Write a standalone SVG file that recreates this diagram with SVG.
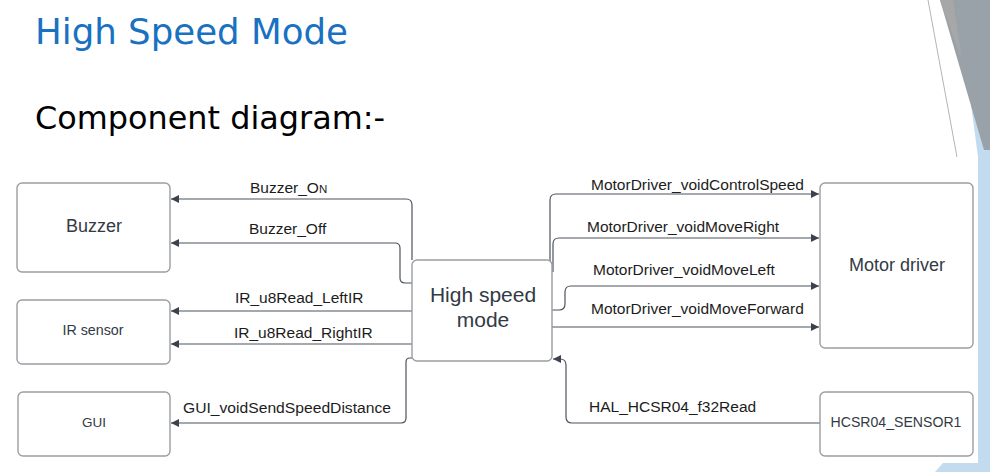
<svg xmlns="http://www.w3.org/2000/svg" width="990" height="472" viewBox="0 0 990 472">
  <defs>
    <style>
      .title { font-family: "DejaVu Sans", "Liberation Sans", sans-serif; }
      .box { fill: #ffffff; stroke: #9b9ea3; stroke-width: 1.4; }
      .boxtext { font-family: "Liberation Sans", Arial, sans-serif; fill: #333a44; text-anchor: middle; }
      .lbl { font-family: "Liberation Sans", Arial, sans-serif; font-size: 15.5px; fill: #1c1c1c; }
      .conn { fill: none; stroke: #4d535d; stroke-width: 1.2; marker-end: url(#ah); }
    </style>
    <marker id="ah" viewBox="0 0 10 10" refX="10" refY="5" markerWidth="10" markerHeight="8" orient="auto" markerUnits="userSpaceOnUse">
      <path d="M0,0 L10,5 L0,10 z" fill="#3c424c"/>
    </marker>
  </defs>

  <rect x="0" y="0" width="990" height="472" fill="#ffffff"/>

  <!-- slide decoration -->
  <polygon points="957,0 990,0 990,472 935,472 943,463 978,463 978,157" fill="#c3dbef"/>
  <polygon points="940,0 990,0 990,150 984,150" fill="#99a2a8"/>
  <polygon points="940,0 953,0 962,60" fill="#a7a7a7"/>
  <line x1="928" y1="0" x2="957" y2="157" stroke="#b4b4b4" stroke-width="1"/>

  <text class="title" x="35" y="44" font-size="36" fill="#1872c1" textLength="313" lengthAdjust="spacingAndGlyphs">High Speed Mode</text>
  <text class="title" x="35" y="129" font-size="32" fill="#000000" textLength="350" lengthAdjust="spacingAndGlyphs">Component diagram:-</text>

  <g id="connectors">
    <path class="conn" d="M412,260 V205 Q412,199 406,199 H171"/>
    <path class="conn" d="M412,283 H405 Q400,283 400,278 V248 Q400,243 395,243 H171"/>
    <path class="conn" d="M412,311 H171"/>
    <path class="conn" d="M412,344 H171"/>
    <path class="conn" d="M412,358 H410 Q406,358 406,362 V418 Q406,423 401,423 H171"/>
    <path class="conn" d="M550,262 V200 Q550,194 556,194 H819"/>
    <path class="conn" d="M553,272 V244 Q553,238 559,238 H819"/>
    <path class="conn" d="M552,310 H559 Q565,310 565,304 V292 Q565,286 571,286 H819"/>
    <path class="conn" d="M552,327 H819"/>
    <path class="conn" d="M820,423 H572 Q566,423 566,417 V365 Q566,359 560,359 H553"/>

    <text class="lbl" x="250" y="193">Buzzer_O<tspan font-size="11.5">N</tspan></text>
    <text class="lbl" x="249" y="234">Buzzer_Off</text>
    <text class="lbl" x="235" y="303">IR_u8Read_LeftIR</text>
    <text class="lbl" x="234" y="338">IR_u8Read_RightIR</text>
    <text class="lbl" x="183" y="413" textLength="208" lengthAdjust="spacingAndGlyphs">GUI_voidSendSpeedDistance</text>
    <text class="lbl" x="591" y="190" textLength="213" lengthAdjust="spacingAndGlyphs">MotorDriver_voidControlSpeed</text>
    <text class="lbl" x="587" y="232">MotorDriver_voidMoveRight</text>
    <text class="lbl" x="593" y="275">MotorDriver_voidMoveLeft</text>
    <text class="lbl" x="591" y="314">MotorDriver_voidMoveForward</text>
    <text class="lbl" x="589" y="412">HAL_HCSR04_f32Read</text>
  </g>

  <g id="buzzer">
    <rect class="box" x="17" y="183" width="153" height="89" rx="5"/>
    <text class="boxtext" x="94" y="232" font-size="18">Buzzer</text>
  </g>
  <g id="ir-sensor">
    <rect class="box" x="17" y="300" width="153" height="64" rx="5"/>
    <text class="boxtext" x="93" y="335" font-size="14.3">IR sensor</text>
  </g>
  <g id="gui">
    <rect class="box" x="18" y="392" width="152" height="64" rx="5"/>
    <text class="boxtext" x="94" y="427" font-size="13.5">GUI</text>
  </g>
  <g id="high-speed-mode">
    <rect class="box" x="412" y="260" width="140" height="101" rx="5"/>
    <text class="boxtext" x="483" y="302" font-size="21">High speed</text>
    <text class="boxtext" x="483" y="327" font-size="21">mode</text>
  </g>
  <g id="motor-driver">
    <rect class="box" x="820" y="183" width="153" height="165" rx="5"/>
    <text class="boxtext" x="897" y="271" font-size="18">Motor driver</text>
  </g>
  <g id="hcsr04-sensor1">
    <rect class="box" x="820" y="392" width="153" height="64" rx="5"/>
    <text class="boxtext" x="896" y="427" font-size="14.1">HCSR04_SENSOR1</text>
  </g>
</svg>
